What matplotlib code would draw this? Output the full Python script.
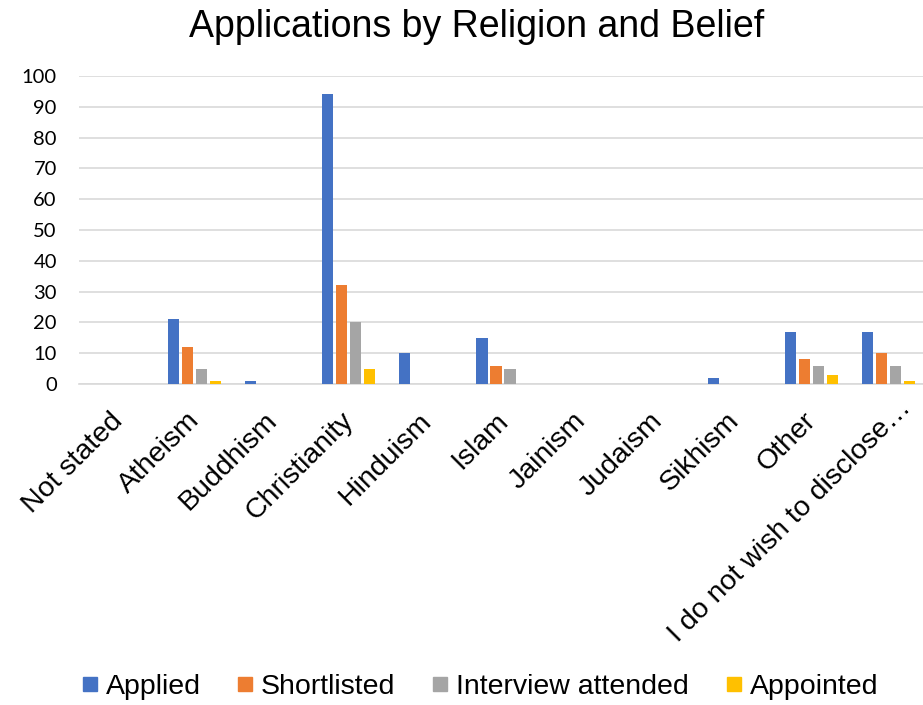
import matplotlib
matplotlib.use("Agg")
import matplotlib.pyplot as plt
import matplotlib.transforms as mtransforms
from matplotlib.lines import Line2D
import numpy as np

categories = ["Not stated", "Atheism", "Buddhism", "Christianity", "Hinduism",
              "Islam", "Jainism", "Judaism", "Sikhism", "Other",
              "I do not wish to disclose\u2026"]
series_names = ["Applied", "Shortlisted", "Interview attended", "Appointed"]
applied = [0, 21, 1, 94, 10, 15, 0, 0, 2, 17, 17]
shortlisted = [0, 12, 0, 32, 0, 6, 0, 0, 0, 8, 10]
interview = [0, 5, 0, 20, 0, 5, 0, 0, 0, 6, 6]
appointed = [0, 1, 0, 5, 0, 0, 0, 0, 0, 3, 1]
y_ticks = list(range(0, 101, 10))

colors = ["#4472C4", "#ED7D31", "#A5A5A5", "#FFC000"]
series = [applied, shortlisted, interview, appointed]

W, H = 923, 705
fig = plt.figure(figsize=(W / 100, H / 100), dpi=100)
ax = fig.add_axes([79 / W, 1 - 384 / H, 848 / W, 308 / H])

x = np.arange(len(categories))
bar_w = 0.143
step = 0.1816
for i, (vals, c) in enumerate(zip(series, colors)):
    ax.bar(x + (i - 1.5) * step, vals, width=bar_w, color=c, zorder=3)

ax.set_xlim(-0.5, len(categories) - 0.5)
ax.set_ylim(0, 100)
ax.set_yticks(y_ticks)
ax.yaxis.grid(True, color="#D9D9D9", linewidth=1.2, zorder=0)
ax.set_axisbelow(True)
for s in ["top", "right", "left"]:
    ax.spines[s].set_visible(False)
ax.spines["bottom"].set_color("#D9D9D9")
ax.spines["bottom"].set_linewidth(1.2)
ax.tick_params(axis="both", length=0)
ax.tick_params(axis="y", pad=16)
for lab in ax.get_yticklabels():
    lab.set_fontfamily("Lato")
    lab.set_fontsize(14.5)
    lab.set_color("#000000")

ax.set_xticks(x)
ax.set_xticklabels(categories, rotation=45, ha="right", va="top",
                   rotation_mode="anchor", fontsize=20.5,
                   fontfamily="Liberation Sans")
ax.tick_params(axis="x", pad=17)
xlabels = ax.get_xticklabels()
shift = mtransforms.ScaledTranslation(-8 / 100, 0, fig.dpi_scale_trans)
for lab in xlabels:
    lab.set_transform(lab.get_transform() + shift)
# the long truncated label sits a little further along its diagonal
extra = mtransforms.ScaledTranslation(17 / 100, 13 / 100, fig.dpi_scale_trans)
xlabels[-1].set_transform(xlabels[-1].get_transform() + extra)

fig.text(477 / W, 1 - 27 / H, "Applications by Religion and Belief",
         ha="center", va="center", fontsize=27, fontfamily="Liberation Sans")

handles = [Line2D([], [], marker="s", linestyle="none", markersize=10.5,
                  markerfacecolor=c, markeredgecolor=c) for c in colors]
fig.legend(handles, series_names, loc="center left", ncol=4,
           bbox_to_anchor=(79 / W, 1 - 687 / H), frameon=False,
           prop={"family": "Liberation Sans", "size": 20.5},
           handlelength=0.75, handletextpad=0.18, columnspacing=1.2,
           borderaxespad=0, borderpad=0)

fig.savefig("out.png", dpi=100)
